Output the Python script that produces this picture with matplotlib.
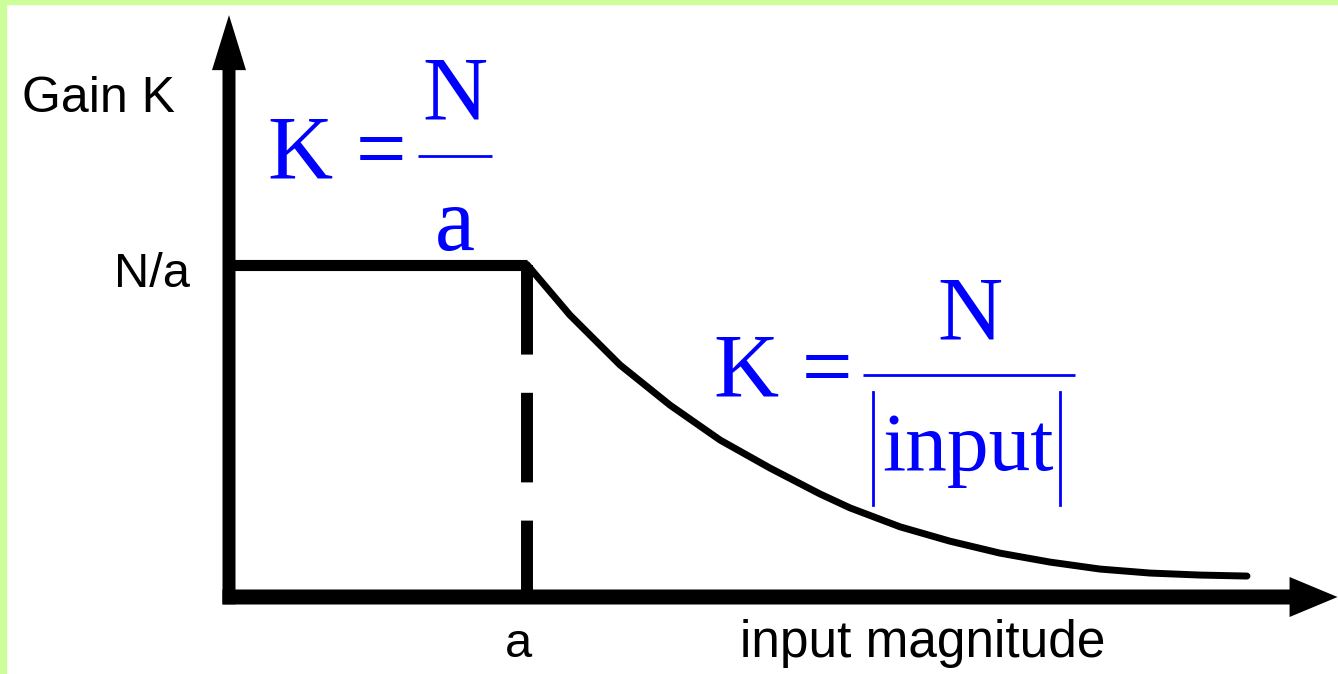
import matplotlib
matplotlib.use("Agg")
import matplotlib.pyplot as plt
from matplotlib.patches import Rectangle

plt.rcParams['font.family'] = ['Liberation Sans', 'DejaVu Sans']

# normalised units: a = 1 on the input axis, N/a = 1 on the gain axis
a = 1.0
gain_sat = 1.0
curve_x = [1.000, 1.144, 1.312, 1.480, 1.648, 1.815, 1.983, 2.084, 2.252,
           2.419, 2.587, 2.755, 2.923, 3.091, 3.258, 3.416]
curve_y = [1.000, 0.848, 0.698, 0.577, 0.472, 0.388, 0.310, 0.268, 0.211,
           0.168, 0.132, 0.105, 0.084, 0.072, 0.066, 0.063]

x_end = 3.72   # arrow tip of input axis
y_end = 1.75   # arrow tip of gain axis

fig = plt.figure(figsize=(13.38, 6.74), dpi=100)
fig.patch.set_facecolor('white')
# light green frame on top and left edges
fig.patches.append(Rectangle((0, 0), 6 / 1338, 1, transform=fig.transFigure,
                             color='#ccff99', zorder=0))
fig.patches.append(Rectangle((0, 1 - 4 / 674), 1, 4 / 674, transform=fig.transFigure,
                             color='#ccff99', zorder=0))

ax = fig.add_axes([6 / 1338, 0, 1 - 6 / 1338, 1 - 4 / 674])
ax.set_xlim(-223 / 298, 1109 / 298)
ax.set_ylim(-77 / 332.5, 593 / 332.5)
ax.axis('off')

# axes with arrow heads
ax.arrow(-0.022, 0, x_end + 0.022, 0, width=15 / 332.5, head_width=40 / 332.5,
         head_length=48 / 298, length_includes_head=True, color='black', lw=0)
ax.arrow(0, -0.022, 0, y_end + 0.022, width=13 / 298, head_width=34 / 298,
         head_length=55 / 332.5, length_includes_head=True, color='black', lw=0)

# saturated gain, dashed boundary and decaying gain
ax.plot([0, a], [gain_sat, gain_sat], color='black', lw=8, solid_capstyle='butt')
ax.plot([a, a], [gain_sat, 0], color='black', lw=8.6, dashes=(7.5, 3.2))
ax.plot(curve_x, curve_y, color='black', lw=5, solid_capstyle='round',
        solid_joinstyle='round')

# labels
ax.text(-0.695, 1.459, 'Gain K', fontsize=36, ha='left', va='baseline')
ax.text(-0.131, 0.932, 'N/a', fontsize=35, ha='right', va='baseline')
ax.text(a - 0.03, -0.180, 'a', fontsize=35, ha='center', va='baseline')
ax.text(1.715, -0.180, 'input magnitude', fontsize=37, ha='left', va='baseline')

# blue formulas
blue = '#0000ff'
serif = dict(family='Liberation Serif', fontsize=65, color=blue)
ax.text(0.131, 1.257, 'K =', ha='left', va='baseline', **serif)
ax.text(0.758, 1.435, 'N', ha='center', va='baseline', **serif)
ax.plot([0.634, 0.883], [1.326, 1.326], color=blue, lw=2, solid_capstyle='butt')
ax.text(0.758, 1.045, 'a', ha='center', va='baseline', **serif)

ax.text(1.628, 0.602, 'K =', ha='left', va='baseline', **serif)
ax.text(2.487, 0.773, 'N', ha='center', va='baseline', **serif)
ax.plot([2.128, 2.839], [0.668, 0.668], color=blue, lw=2, solid_capstyle='butt')
ax.text(2.480, 0.382, 'input', family='Liberation Serif', fontsize=60, color=blue,
        ha='center', va='baseline')
ax.plot([2.161, 2.161], [0.617, 0.277], color=blue, lw=2)
ax.plot([2.789, 2.789], [0.617, 0.277], color=blue, lw=2)

fig.savefig('out.png', dpi=100, facecolor=fig.get_facecolor())
